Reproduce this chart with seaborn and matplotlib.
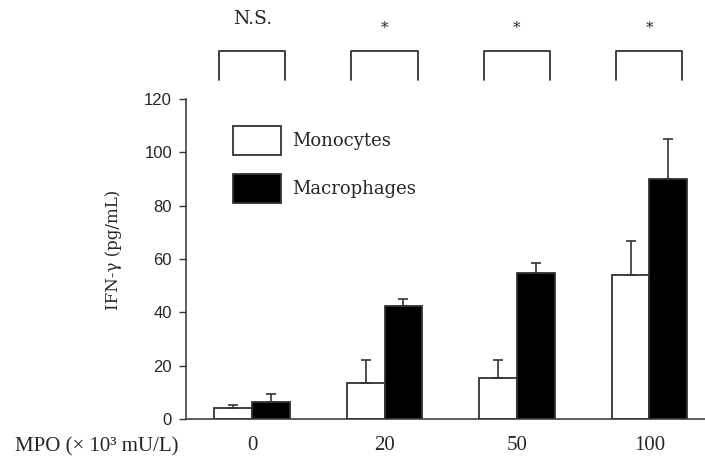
import numpy as np
import pandas as pd
import matplotlib
matplotlib.use("Agg")
import matplotlib.pyplot as plt
import seaborn as sns

# data
doses = ["0", "20", "50", "100"]
cells = ["Monocytes", "Macrophages"]
monocytes = [4.3, 13.6, 15.3, 54.1]
monocytes_err = [0.9, 8.5, 6.8, 12.8]
macrophages = [6.5, 42.3, 54.6, 90.1]
macrophages_err = [3.0, 2.8, 4.0, 15.0]
signif = ["N.S.", "*", "*", "*"]

df = pd.DataFrame({
    "MPO": doses * 2,
    "cell": [cells[0]] * 4 + [cells[1]] * 4,
    "IFN": monocytes + macrophages,
})

sns.set_style("white")
plt.rcParams["font.family"] = ["DejaVu Serif"]

fig = plt.figure(figsize=(7.05, 4.58), dpi=100)
ax = fig.add_axes([186 / 705, 39 / 458, 519 / 705, 320 / 458])

edge = "#333333"
sns.barplot(data=df, x="MPO", y="IFN", hue="cell", order=doses, hue_order=cells,
            palette=["white", "black"], edgecolor=edge, linewidth=1.3,
            width=0.57, errorbar=None, ax=ax)

# upward-only error bars, placed at the bar centres seaborn produced
for cont, errs in zip(ax.containers, [monocytes_err, macrophages_err]):
    xs = [p.get_x() + p.get_width() / 2 for p in cont.patches]
    hs = [p.get_height() for p in cont.patches]
    ax.errorbar(xs, hs, yerr=[np.zeros(len(errs)), errs], fmt="none",
                ecolor=edge, elinewidth=1.2, capsize=3.4, capthick=1.2, zorder=1)

ax.set_ylim(0, 120)
ax.set_xlim(-0.5, 3.42)
ax.set_yticks(range(0, 121, 20))
for lab in ax.get_yticklabels():
    lab.set_family("Liberation Sans")
    lab.set_fontsize(12)
ax.tick_params(axis="y", direction="out", length=5, width=1, color=edge, left=True, pad=5)
ax.tick_params(axis="x", length=0, pad=12)
for lab in ax.get_xticklabels():
    lab.set_family("Liberation Serif")
    lab.set_fontsize(15)

sns.despine(ax=ax)
for s in ["left", "bottom"]:
    ax.spines[s].set_color(edge)
    ax.spines[s].set_linewidth(1.1)

ax.set_xlabel("")
ax.set_ylabel("IFN-γ (pg/mL)", fontsize=12)
ax.yaxis.set_label_coords(-0.124, 0.53)

fig.text(15 / 705, 1 - 451 / 458, "MPO (× 10³ mU/L)", family="Liberation Serif",
         fontsize=15, va="baseline", ha="left")

# significance brackets above each pair
for i, s in enumerate(signif):
    ax.plot([i - 0.25, i - 0.25, i + 0.25, i + 0.25], [127, 138, 138, 127],
            color=edge, lw=1.3, clip_on=False)
    if s == "*":
        ax.text(i, 146.5, s, ha="center", va="center", fontsize=11, clip_on=False)
    else:
        ax.text(i, 150, s, ha="center", va="center", fontsize=13.5, clip_on=False)

leg = ax.legend(loc="upper left", bbox_to_anchor=(0.09, 0.917), frameon=False,
                fontsize=13, handlelength=2.67, handleheight=2.1, labelspacing=1.05,
                handletextpad=0.6, borderpad=0, borderaxespad=0)
for h in leg.legend_handles:
    h.set_edgecolor(edge)
    h.set_linewidth(1.3)

fig.savefig("out.png", dpi=100)
